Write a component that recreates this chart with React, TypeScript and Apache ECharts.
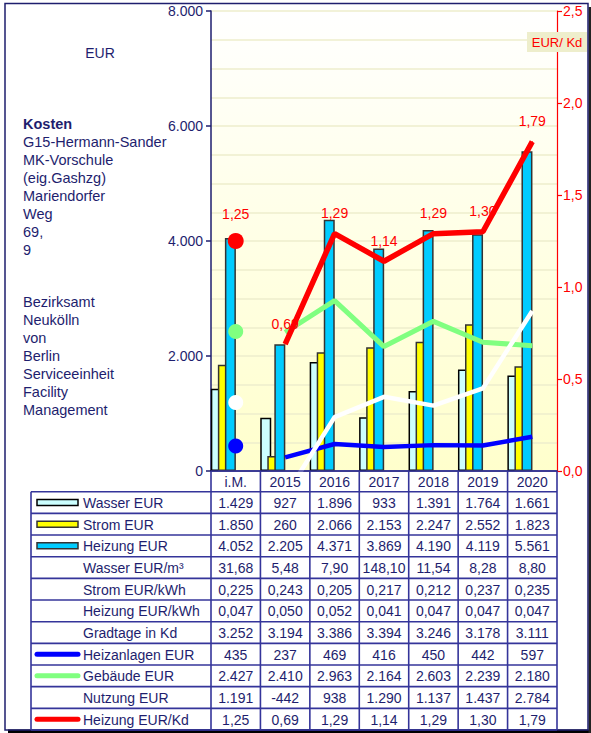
import React, { useEffect, useRef } from 'react';
import * as echarts from 'echarts';

const categories = ['i.M.', '2015', '2016', '2017', '2018', '2019', '2020'];
const wasserEur = [1429, 927, 1896, 933, 1391, 1764, 1661];
const stromEur = [1850, 260, 2066, 2153, 2247, 2552, 1823];
const heizungEur = [4052, 2205, 4371, 3869, 4190, 4119, 5561];
const wasserEurM3 = [31.68, 5.48, 7.9, 148.1, 11.54, 8.28, 8.8];
const stromEurKwh = [0.225, 0.243, 0.205, 0.217, 0.212, 0.237, 0.235];
const heizungEurKwh = [0.047, 0.05, 0.052, 0.041, 0.047, 0.047, 0.047];
const gradtageKd = [3252, 3194, 3386, 3394, 3246, 3178, 3111];
const heizanlagenEur = [435, 237, 469, 416, 450, 442, 597];
const gebaeudeEur = [2427, 2410, 2963, 2164, 2603, 2239, 2180];
const nutzungEur = [1191, -442, 938, 1290, 1137, 1437, 2784];
const heizungEurKd = [1.25, 0.69, 1.29, 1.14, 1.29, 1.3, 1.79];

const leftTicksMax = 8000;
const leftTickStep = 2000;
const rightTicksMax = 2.5;
const rightTickStep = 0.5;

const titleBold = 'Kosten';
const titleLines = ['G15-Hermann-Sander', 'MK-Vorschule', '(eig.Gashzg)', 'Mariendorfer', 'Weg', '69,', '9'];
const ownerLines = ['Bezirksamt', 'Neukölln', 'von', 'Berlin', 'Serviceeinheit', 'Facility', 'Management'];

const NAVY = '#1e1e6e';
const TABLE_LINE = '#34349a';
const FONT = '"Liberation Sans", Arial, sans-serif';

function fmt(v: number, dec: number): string {
  const neg = v < 0;
  const s = Math.abs(v).toFixed(dec);
  const parts = s.split('.');
  const ii = parts[0].replace(/\B(?=(\d{3})+(?!\d))/g, '.');
  return (neg ? '-' : '') + ii + (parts[1] ? ',' + parts[1] : '');
}

type Swatch = { kind: 'bar'; fill: string; stroke: string } | { kind: 'line'; color: string } | { kind: 'none' };

const rows: { label: string; values: number[]; dec: number; swatch: Swatch }[] = [
  { label: 'Wasser EUR', values: wasserEur, dec: 0, swatch: { kind: 'bar', fill: '#ccffff', stroke: '#000000' } },
  { label: 'Strom EUR', values: stromEur, dec: 0, swatch: { kind: 'bar', fill: '#ffff00', stroke: '#333333' } },
  { label: 'Heizung EUR', values: heizungEur, dec: 0, swatch: { kind: 'bar', fill: '#00ccff', stroke: '#333333' } },
  { label: 'Wasser EUR/m³', values: wasserEurM3, dec: 2, swatch: { kind: 'none' } },
  { label: 'Strom EUR/kWh', values: stromEurKwh, dec: 3, swatch: { kind: 'none' } },
  { label: 'Heizung EUR/kWh', values: heizungEurKwh, dec: 3, swatch: { kind: 'none' } },
  { label: 'Gradtage in Kd', values: gradtageKd, dec: 0, swatch: { kind: 'none' } },
  { label: 'Heizanlagen EUR', values: heizanlagenEur, dec: 0, swatch: { kind: 'line', color: '#0000ff' } },
  { label: 'Gebäude EUR', values: gebaeudeEur, dec: 0, swatch: { kind: 'line', color: '#80ff80' } },
  { label: 'Nutzung EUR', values: nutzungEur, dec: 0, swatch: { kind: 'none' } },
  { label: 'Heizung EUR/Kd', values: heizungEurKd, dec: 2, swatch: { kind: 'line', color: '#ff0000' } },
];

const GRID_LEFT = 211;
const GRID_RIGHT_X = 557;
const GRID_TOP = 11;
const GRID_BOTTOM_Y = 471;
const W = 591;
const H = 733;

function buildOption() {
  const n = categories.length;
  const colW = (GRID_RIGHT_X - GRID_LEFT) / n;
  const headerBottom = 491.7;
  const tableBottom = 730;
  const rowH = (tableBottom - headerBottom) / rows.length;
  const tableLeft = 31;

  const halfCats = categories.flatMap((c) => [c, c + ' ']);
  const half = (arr: number[]) => arr.flatMap((v) => [v, '-']);
  const lineFrom2015 = (arr: number[]) => arr.map((v, i) => (i === 0 ? '-' : v));
  const onlyFirst = (arr: number[]) => arr.map((v, i) => (i === 0 ? v : '-'));

  const g: any[] = [];
  const txt = (x: number, y: number, text: string, opts: any = {}) => ({
    type: 'text',
    x,
    y,
    z: 50,
    style: {
      text,
      fill: opts.fill || NAVY,
      font: opts.font || `14px ${FONT}`,
      align: opts.align || 'left',
      textAlign: opts.align || 'left',
      verticalAlign: opts.va || 'middle',
      textVerticalAlign: opts.va || 'middle',
      lineHeight: opts.lineHeight,
    },
  });
  const ln = (x1: number, y1: number, x2: number, y2: number, stroke = TABLE_LINE, lw = 1.6) => ({
    type: 'line',
    z: 40,
    shape: { x1, y1, x2, y2 },
    style: { stroke, lineWidth: lw },
  });

  // outer frame + shadow
  g.push({ type: 'rect', z: 1, shape: { x: 8, y: 729.5, width: 583, height: 3.5 }, style: { fill: '#000' } });
  g.push({ type: 'rect', z: 1, shape: { x: 588.5, y: 7, width: 2.5, height: 726 }, style: { fill: '#222' } });
  g.push({ type: 'rect', z: 2, shape: { x: 5, y: 3.5, width: 583, height: 726.5 }, style: { fill: 'none', stroke: NAVY, lineWidth: 1.5 } });

  // left texts
  g.push(txt(100, 53, 'EUR', { font: `14px ${FONT}`, align: 'center' }));
  g.push(txt(23, 124, titleBold, { font: `bold 14.5px ${FONT}` }));
  g.push(txt(23, 132.7, titleLines.join('\n'), { font: `14.5px ${FONT}`, va: 'top', lineHeight: 18 }));
  g.push(txt(23, 292.7, ownerLines.join('\n'), { font: `14.5px ${FONT}`, va: 'top', lineHeight: 18 }));

  // EUR/Kd box
  g.push({ type: 'rect', z: 60, shape: { x: 527, y: 32, width: 60, height: 20 }, style: { fill: '#eeeecc' } });
  g.push(txt(557, 42.5, 'EUR/ Kd', { fill: '#ff0000', font: `13px ${FONT}`, align: 'center' }));
  g[g.length - 1].z = 61;

  // table header
  categories.forEach((c, i) => {
    g.push(txt(GRID_LEFT + colW * (i + 0.5), (GRID_BOTTOM_Y + headerBottom) / 2 + 0.5, c, { align: 'center' }));
  });
  // table lines
  g.push(ln(GRID_LEFT, GRID_BOTTOM_Y, GRID_RIGHT_X, GRID_BOTTOM_Y));
  for (let r = 0; r <= rows.length; r++) {
    const y = headerBottom + r * rowH;
    g.push(ln(tableLeft, y, GRID_RIGHT_X, y));
  }
  g.push(ln(tableLeft, headerBottom, tableLeft, tableBottom));
  for (let i = 0; i <= n; i++) {
    const x = GRID_LEFT + colW * i;
    g.push(ln(x, GRID_BOTTOM_Y, x, tableBottom));
  }
  // rows
  rows.forEach((row, r) => {
    const cy = headerBottom + (r + 0.5) * rowH;
    const sw = row.swatch;
    if (sw.kind === 'bar') {
      g.push({ type: 'rect', z: 45, shape: { x: 37, y: cy - 3, width: 41, height: 6 }, style: { fill: sw.fill, stroke: sw.stroke, lineWidth: 1.5 } });
    } else if (sw.kind === 'line') {
      g.push({ type: 'line', z: 45, shape: { x1: 37, y1: cy, x2: 78, y2: cy }, style: { stroke: sw.color, lineWidth: 5, lineCap: 'round' } });
    }
    g.push(txt(83, cy + 0.5, row.label));
    row.values.forEach((v, i) => {
      g.push(txt(GRID_LEFT + colW * (i + 0.5), cy + 0.5, fmt(v, row.dec), { align: 'center' }));
    });
  });

  const gridLineStyle = { color: '#eeeecc', width: 1.5 };
  const redLabel = {
    show: true,
    position: 'top',
    color: '#ff0000',
    fontSize: 14,
    fontFamily: FONT,
    formatter: (p: any) => fmt(p.value as number, 2),
  };

  return {
    animation: false,
    backgroundColor: '#ffffff',
    textStyle: { fontFamily: FONT },
    grid: {
      left: GRID_LEFT,
      right: W - GRID_RIGHT_X,
      top: GRID_TOP,
      bottom: H - GRID_BOTTOM_Y,
      show: true,
      borderWidth: 0,
      backgroundColor: new echarts.graphic.LinearGradient(0, 0, 0, 1, [
        { offset: 0, color: '#ffffff' },
        { offset: 1, color: '#ffffcc' },
      ]),
    },
    xAxis: [
      {
        type: 'category',
        data: categories,
        boundaryGap: true,
        axisLine: { lineStyle: { color: NAVY, width: 1.5 } },
        axisTick: { show: false },
        axisLabel: { show: false },
        splitLine: { show: false },
      },
      {
        type: 'category',
        data: halfCats,
        show: false,
        boundaryGap: true,
      },
    ],
    yAxis: [
      {
        type: 'value',
        min: 0,
        max: leftTicksMax,
        interval: leftTickStep,
        axisLine: { show: true, lineStyle: { color: NAVY, width: 1.5 } },
        axisTick: { show: true, length: 5, lineStyle: { color: NAVY, width: 1.5 } },
        axisLabel: { color: NAVY, fontSize: 14, fontFamily: FONT, margin: 8, formatter: (v: number) => fmt(v, 0) },
        splitLine: { show: true, lineStyle: gridLineStyle },
        minorTick: { show: false, splitNumber: 4 },
        minorSplitLine: { show: true, lineStyle: gridLineStyle },
      },
      {
        type: 'value',
        position: 'right',
        min: 0,
        max: rightTicksMax,
        interval: rightTickStep,
        axisLine: { show: true, lineStyle: { color: '#ff0000', width: 1.2 } },
        axisTick: { show: true, length: 5, lineStyle: { color: '#ff0000', width: 1.2 } },
        axisLabel: { color: '#ff0000', fontSize: 14, fontFamily: FONT, margin: 6, formatter: (v: number) => fmt(v, 1) },
        splitLine: { show: false },
      },
    ],
    series: [
      {
        name: 'Wasser EUR',
        type: 'bar',
        xAxisIndex: 1,
        yAxisIndex: 0,
        data: half(wasserEur),
        barWidth: 11,
        barGap: '-36%',
        itemStyle: { color: '#ccffff', borderColor: '#000000', borderWidth: 1.5 },
      },
      {
        name: 'Strom EUR',
        type: 'bar',
        xAxisIndex: 1,
        yAxisIndex: 0,
        data: half(stromEur),
        barWidth: 11,
        barGap: '-36%',
        itemStyle: { color: '#ffff00', borderColor: '#333333', borderWidth: 1.5 },
      },
      {
        name: 'Heizung EUR',
        type: 'bar',
        xAxisIndex: 1,
        yAxisIndex: 0,
        data: half(heizungEur),
        barWidth: 11,
        barGap: '-36%',
        itemStyle: { color: '#00ccff', borderColor: '#333333', borderWidth: 1.5 },
      },
      {
        name: 'Heizanlagen EUR',
        type: 'line',
        xAxisIndex: 0,
        yAxisIndex: 0,
        data: lineFrom2015(heizanlagenEur),
        symbol: 'none',
        lineStyle: { color: '#0000ff', width: 4.5 },
      },
      {
        type: 'scatter',
        xAxisIndex: 0,
        yAxisIndex: 0,
        data: onlyFirst(heizanlagenEur),
        symbolSize: 15,
        itemStyle: { color: '#0000ff', opacity: 1 },
      },
      {
        name: 'Gebäude EUR',
        type: 'line',
        xAxisIndex: 0,
        yAxisIndex: 0,
        data: lineFrom2015(gebaeudeEur),
        symbol: 'none',
        lineStyle: { color: '#80ff80', width: 5 },
      },
      {
        type: 'scatter',
        xAxisIndex: 0,
        yAxisIndex: 0,
        data: onlyFirst(gebaeudeEur),
        symbolSize: 15,
        itemStyle: { color: '#80ff80', opacity: 1 },
      },
      {
        name: 'Nutzung EUR',
        type: 'line',
        xAxisIndex: 0,
        yAxisIndex: 0,
        data: lineFrom2015(nutzungEur),
        symbol: 'none',
        clip: true,
        lineStyle: { color: '#ffffff', width: 4.5 },
      },
      {
        type: 'scatter',
        xAxisIndex: 0,
        yAxisIndex: 0,
        data: onlyFirst(nutzungEur),
        symbolSize: 15,
        itemStyle: { color: '#ffffff', opacity: 1 },
      },
      {
        name: 'Heizung EUR/Kd',
        type: 'line',
        xAxisIndex: 0,
        yAxisIndex: 1,
        data: lineFrom2015(heizungEurKd),
        symbol: 'circle',
        symbolSize: 1,
        showSymbol: true,
        itemStyle: { color: '#ff0000' },
        lineStyle: { color: '#ff0000', width: 5.5 },
        label: { ...redLabel, distance: 13 },
      },
      {
        type: 'scatter',
        xAxisIndex: 0,
        yAxisIndex: 1,
        data: onlyFirst(heizungEurKd),
        symbolSize: 16,
        itemStyle: { color: '#ff0000', opacity: 1 },
        label: { ...redLabel, distance: 12 },
      },
    ],
    graphic: { elements: g },
  };
}

export default function App() {
  const ref = useRef<HTMLDivElement>(null);
  useEffect(() => {
    if (!ref.current) return;
    const chart = echarts.init(ref.current, null, { renderer: 'svg' });
    chart.setOption(buildOption() as any);
    return () => chart.dispose();
  }, []);
  return <div ref={ref} style={{ position: 'absolute', left: 0, top: 0, width: W, height: H }} />;
}
